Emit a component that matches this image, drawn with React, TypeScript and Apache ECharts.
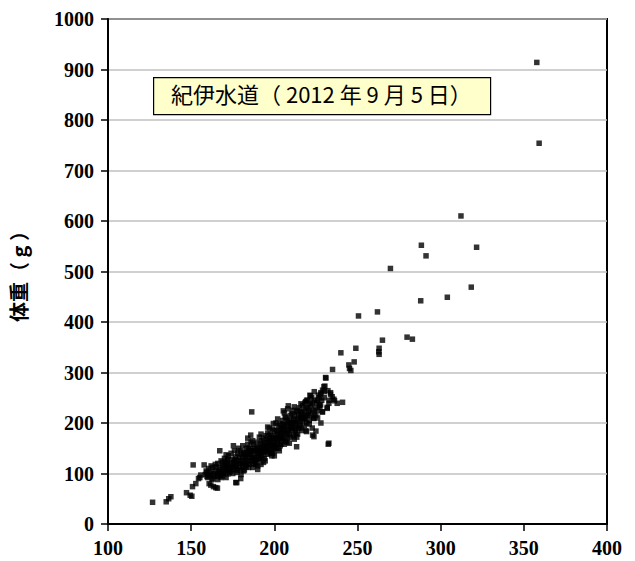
import React, { useEffect, useRef } from "react";
import * as echarts from "echarts";

const xTicks = [100, 150, 200, 250, 300, 350, 400];
const yTicks = [0, 100, 200, 300, 400, 500, 600, 700, 800, 900, 1000];
const yAxisName = "体重（ g ）";
const annotation = "紀伊水道（ 2012 年 9 月 5 日）";

// [length, weight]
const lowTail: number[][] = [
  [126.8, 43], [135, 44], [137.8, 54], [136.5, 50], [147.2, 62], [149.4, 57], [150.4, 55],
  [150.8, 74], [152.8, 80], [155.2, 92], [151.2, 117], [157.8, 117], [154.4, 90], [155.8, 97],
  [159.4, 102], [161.4, 99], [160.8, 80], [161.8, 77], [163.4, 74], [164.8, 72], [165.8, 71],
  [167.2, 145], [165.8, 94], [168.8, 100], [171.8, 107], [175.4, 155], [177.4, 82], [176.8, 82],
  [179.8, 90], [186.4, 222], [185.8, 176], [199.4, 199], [205.4, 224], [208.4, 234], [213.4, 153],
];

const core1: number[][] = [
  [158.5, 98], [159, 105], [160, 92], [160.5, 110], [161, 96], [162, 104], [162.5, 88], [163, 112],
  [163.5, 100], [164, 95], [164.5, 118], [165, 106], [162, 115], [159.5, 94],
  [165.5, 98], [166, 120], [166.5, 104], [167, 112], [167.5, 96], [168, 125], [168.5, 108],
  [169, 116], [169.5, 101], [170, 130], [170, 112], [166, 88], [168, 92], [169, 122],
  [170.5, 104], [171, 118], [171.5, 125], [172, 99], [172.5, 135], [173, 110], [173.5, 120],
  [174, 105], [174.5, 128], [175, 115], [171, 137], [172, 128], [173, 102], [174, 140], [175, 100],
  [170.5, 120],
  [175.5, 122], [176, 108], [176.5, 133], [177, 117], [177.5, 102], [178, 140], [178.5, 125],
  [179, 112], [179.5, 145], [180, 120], [176, 145], [177, 128], [178, 106], [179, 132], [180, 138],
  [180, 108], [176.5, 115], [178.5, 150],
];

const core2: number[][] = [
  [180.5, 126], [181, 115], [181.5, 142], [182, 107], [182.5, 133], [183, 150], [183.5, 120],
  [184, 138], [184.5, 112], [185, 145], [181, 155], [182, 122], [183, 130], [184, 158], [185, 118],
  [185, 132], [181.5, 105], [183.5, 140], [184.5, 150], [182.5, 117],
  [185.5, 150], [186, 125], [186.5, 140], [187, 112], [187.5, 158], [188, 132], [188.5, 145],
  [189, 120], [189.5, 162], [190, 138], [186, 162], [187, 120], [188, 150], [189, 128], [190, 152],
  [190, 115], [186.5, 132], [187.5, 145], [188.5, 118], [189.5, 140], [185.5, 138], [187, 165],
  [190.5, 145], [191, 128], [191.5, 160], [192, 118], [192.5, 150], [193, 135], [193.5, 170],
  [194, 142], [194.5, 125], [195, 160], [191, 172], [192, 140], [193, 155], [194, 130], [195, 175],
  [195, 145], [190.5, 130], [191.5, 150], [192.5, 165], [193.5, 122], [194.5, 152], [192, 178],
  [195.5, 150], [196, 138], [196.5, 165], [197, 145], [197.5, 178], [198, 155], [198.5, 135],
  [199, 170], [199.5, 150], [200, 185], [196, 180], [197, 160], [198, 142], [199, 188], [200, 160],
  [200, 145], [195.5, 168], [196.5, 148], [197.5, 140], [198.5, 175], [199.5, 162], [197, 190],
  [199, 140],
];

const core3: number[][] = [
  [200.5, 170], [201, 150], [201.5, 185], [202, 160], [202.5, 195], [203, 172], [203.5, 155],
  [204, 190], [204.5, 165], [205, 205], [201, 200], [202, 178], [203, 145], [204, 180], [205, 170],
  [205, 188], [200.5, 155], [201.5, 165], [202.5, 150], [203.5, 198], [204.5, 175], [202, 208],
  [204, 158],
  [205.5, 180], [206, 195], [206.5, 165], [207, 210], [207.5, 185], [208, 170], [208.5, 200],
  [209, 178], [209.5, 215], [210, 190], [206, 220], [207, 175], [208, 205], [209, 160], [210, 200],
  [210, 172], [205.5, 198], [206.5, 212], [207.5, 162], [208.5, 188], [209.5, 195], [206, 158],
  [208, 228],
  [210.5, 185], [211, 200], [211.5, 175], [212, 215], [212.5, 195], [213, 180], [213.5, 222],
  [214, 205], [214.5, 190], [215, 230], [211, 225], [212, 168], [213, 200], [214, 178], [215, 210],
  [215, 195], [210.5, 218], [211.5, 208], [212.5, 185], [213.5, 172], [214.5, 215], [212, 232],
  [215.5, 200], [216, 222], [216.5, 185], [217, 235], [217.5, 210], [218, 195], [218.5, 240],
  [219, 215], [219.5, 200], [220, 230], [216, 190], [217, 205], [218, 225], [219, 185], [220, 215],
  [220, 245], [216.5, 215], [218.5, 208], [219.4, 183], [219.4, 245], [218.8, 242], [216, 238],
];

const core4: number[][] = [
  [220.5, 220], [221, 205], [221.5, 238], [222, 215], [222.5, 250], [223, 225], [223.5, 210],
  [224, 245], [224.5, 230], [225, 215], [221.4, 255], [221.8, 254], [222.8, 190], [223.8, 173],
  [223.8, 209], [223, 176], [225, 184], [224, 262], [221, 198],
  [225.5, 240], [226, 225], [226.5, 255], [227, 235], [227.8, 257], [227.8, 236], [228.5, 245],
  [228.8, 222], [229, 265], [229.8, 272], [230, 250], [230.4, 273], [227.4, 231], [229, 222],
  [226, 210], [228, 200],
  [230.8, 290], [231, 289], [231.8, 231], [231.8, 229], [232.2, 264], [232.8, 239], [232.8, 160],
  [232.4, 158], [233.8, 257], [233.8, 260], [234.8, 252], [235.8, 247], [236.2, 244],
  [237.8, 239], [235, 306], [233, 245],
];

const core5: number[][] = [
  [163, 90], [165, 113], [167, 103], [169, 95], [171, 112], [172, 118], [174, 112], [176, 125],
  [177, 110], [179, 120], [181, 132], [182, 140], [183, 113], [184, 125], [186, 145], [187, 130],
  [188, 125], [189, 150], [191, 140], [192, 130], [193, 145], [194, 160], [196, 155], [197, 170],
  [198, 165], [199, 155], [201, 175], [202, 168], [203, 185], [204, 170], [206, 185], [207, 195],
  [208, 180], [209, 205], [211, 190], [212, 205], [213, 190], [214, 225], [216, 210], [217, 220],
  [218, 210], [219, 230], [221, 225], [222, 235], [223, 240], [224, 220], [226, 245], [227, 250],
  [228, 260], [230, 262], [184, 170], [196, 192], [171, 92], [180, 98], [190, 108], [200, 135],
];

const highTail: number[][] = [
  [240, 339], [241, 241], [244.8, 315], [245.2, 308], [246, 304], [248, 321], [249, 348],
  [250.6, 412], [262, 420], [262.8, 341], [263, 336], [263, 348], [265, 364], [269.8, 506],
  [279.8, 370], [283, 366], [288, 442], [288.4, 552], [291.2, 531], [304, 449], [312.2, 610],
  [318.4, 469], [321.6, 548], [357.8, 914], [359.2, 754],
];

const points = [...lowTail, ...core1, ...core2, ...core3, ...core4, ...core5, ...highTail];

const labelFont = {
  color: "#000",
  fontFamily: "Liberation Serif, Times New Roman, serif",
  fontWeight: "bold" as const,
  fontSize: 20,
};

export default function App() {
  const ref = useRef<HTMLDivElement>(null);
  useEffect(() => {
    document.body.style.margin = "0";
    const chart = echarts.init(ref.current!, null, { renderer: "svg" });
    chart.setOption({
      animation: false,
      backgroundColor: "#ffffff",
      grid: {
        left: 107,
        top: 19,
        right: 28,
        bottom: 37,
        show: true,
        borderColor: "#000",
        borderWidth: 2,
        backgroundColor: "transparent",
      },
      xAxis: {
        type: "value",
        min: 100,
        max: 400,
        interval: 50,
        axisLine: { lineStyle: { color: "#000", width: 2 } },
        axisTick: { show: true, length: 7, lineStyle: { color: "#000", width: 1.5 } },
        splitLine: { show: false },
        axisLabel: { ...labelFont, margin: 14, formatter: (v: number) => (xTicks.includes(v) ? String(v) : "") },
      },
      yAxis: {
        type: "value",
        min: 0,
        max: 1000,
        interval: 100,
        name: yAxisName,
        nameLocation: "middle",
        nameGap: 80,
        nameRotate: 90,
        nameTextStyle: {
          color: "#000",
          fontFamily: "Noto Sans CJK JP",
          fontWeight: "bold",
          fontSize: 20,
        },
        axisLine: { show: true, lineStyle: { color: "#000", width: 2 } },
        axisTick: { show: true, length: 7, lineStyle: { color: "#000", width: 1.5 } },
        splitLine: { show: true, lineStyle: { color: "#c0c0c0", width: 1.5 } },
        axisLabel: { ...labelFont, margin: 14, formatter: (v: number) => (yTicks.includes(v) ? String(v) : "") },
      },
      graphic: [
        {
          type: "rect",
          left: 153,
          top: 77,
          shape: { width: 337, height: 37 },
          style: { fill: "#ffffcc", stroke: "#000", lineWidth: 1.2 },
          z: 10,
        },
        {
          type: "text",
          left: 171,
          top: 82,
          style: {
            text: annotation,
            fill: "#000",
            font: "normal 22px 'Noto Sans CJK JP'",
          },
          z: 11,
        },
      ],
      series: [
        {
          type: "scatter",
          data: points,
          symbol: "rect",
          symbolSize: 5.5,
          itemStyle: { color: "#000" },
        },
      ],
    });
    return () => chart.dispose();
  }, []);
  return <div ref={ref} style={{ width: 635, height: 561 }} />;
}
